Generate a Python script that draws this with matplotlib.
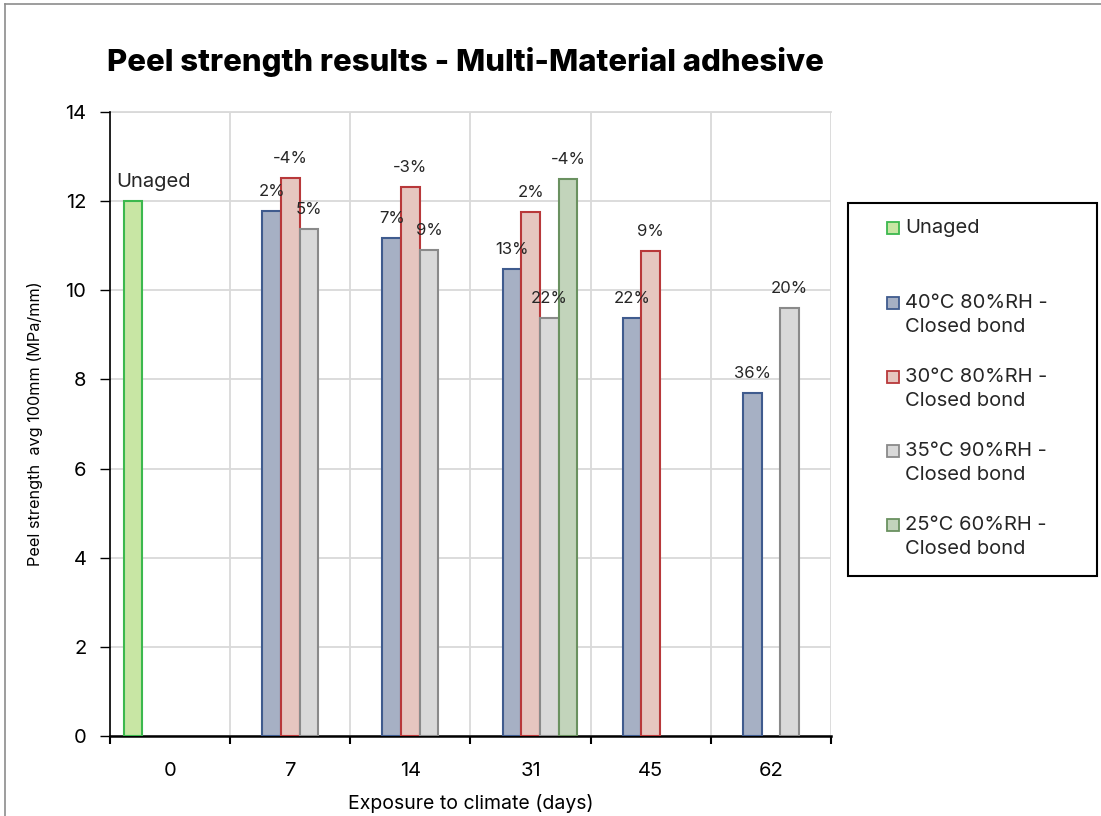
import numpy as np
import matplotlib
matplotlib.use("Agg")
import matplotlib.pyplot as plt
from matplotlib.patches import Rectangle
from matplotlib.lines import Line2D

W, H = 1101, 816
FONT = "Inter"
plt.rcParams["font.family"] = [FONT, "DejaVu Sans"]

# ---- data -------------------------------------------------------------
days = ["0", "7", "14", "31", "45", "62"]
nan = np.nan

series_names = ["Unaged",
                "40°C 80%RH -\nClosed bond",
                "30°C 80%RH -\nClosed bond",
                "35°C 90%RH -\nClosed bond",
                "25°C 60%RH -\nClosed bond"]

unaged   = [12.00, nan, nan, nan, nan, nan]
c40_rh80 = [nan, 11.78, 11.17, 10.47, 9.38, 7.69]
c30_rh80 = [nan, 12.51, 12.31, 11.75, 10.88, nan]
c35_rh90 = [nan, 11.37, 10.90, 9.38, nan, 9.61]
c25_rh60 = [nan, nan, nan, 12.49, nan, nan]

lbl_unaged   = ["Unaged", "", "", "", "", ""]
lbl_c40_rh80 = ["", "2%", "7%", "13%", "22%", "36%"]
lbl_c30_rh80 = ["", "-4%", "-3%", "2%", "9%", ""]
lbl_c35_rh90 = ["", "5%", "9%", "22%", "", "20%"]
lbl_c25_rh60 = ["", "", "", "-4%", "", ""]

yticks = [0, 2, 4, 6, 8, 10, 12, 14]

# ---- styles -----------------------------------------------------------
values = [unaged, c40_rh80, c30_rh80, c35_rh90, c25_rh60]
labels = [lbl_unaged, lbl_c40_rh80, lbl_c30_rh80, lbl_c35_rh90, lbl_c25_rh60]
fills = ["#c8e6a4", "#a6b0c4", "#e6c6c0", "#d9d9d9", "#c2d4bb"]
edges = ["#3cb84e", "#3f5b8e", "#b8383a", "#8a8a8a", "#6a9160"]

fig = plt.figure(figsize=(W / 100, H / 100), dpi=100)
ax = fig.add_axes([110 / W, (H - 736) / H, 721 / W, (736 - 112) / H])

x = np.arange(len(days))
bw = 0.155
offsets = (np.arange(5) - 2) * bw

for i in range(5):
    v = np.array(values[i], dtype=float)
    ax.bar(x + offsets[i], v, width=bw, color=fills[i], edgecolor=edges[i],
           linewidth=1.5, zorder=3)
    for j, (val, txt) in enumerate(zip(v, labels[i])):
        if txt and not np.isnan(val):
            dx = 15 if i == 0 else 0
            fs = 14.5 if i == 0 else 12
            ax.annotate(txt, (x[j] + offsets[i], val), xytext=(dx, 14),
                        textcoords="offset points", ha="center", va="center",
                        fontsize=fs, color="#262626", zorder=5)

ax.set_xlim(-0.5, len(days) - 0.5)
ax.set_ylim(0, 14)
ax.set_yticks(yticks)
ax.set_yticklabels([str(t) for t in yticks], fontsize=14.5)
ax.set_xticks(x)
ax.set_xticklabels(days, fontsize=14.5)
ax.set_xticks(np.arange(len(days) + 1) - 0.5, minor=True)
ax.tick_params(axis="x", which="major", length=0, pad=19)
ax.tick_params(axis="x", which="minor", length=6, width=1.5, direction="out")
ax.tick_params(axis="y", length=7, width=1, direction="out", pad=10)

ax.grid(True, axis="y", color="#d9d9d9", linewidth=1.3, zorder=0)
ax.grid(True, axis="x", which="minor", color="#d9d9d9", linewidth=1.3, zorder=0)
ax.set_axisbelow(True)
for s in ["top", "right"]:
    ax.spines[s].set_visible(False)
ax.axhline(14, color="#d9d9d9", linewidth=1.3, zorder=0, clip_on=False)
ax.spines["left"].set_linewidth(1.2)
ax.spines["bottom"].set_linewidth(1.8)

ax.set_xlabel("Exposure to climate (days)", fontsize=14, labelpad=10)
ax.set_ylabel("Peel strength  avg 100mm (MPa/mm)", fontsize=11.7, labelpad=16)

fig.text(107 / W, 1 - 62 / H, "Peel strength results - Multi-Material adhesive",
         fontsize=22.4, fontweight="heavy", ha="left", va="center", color="black")


def px(xp, yp):
    return xp / W, 1 - yp / H


# legend box
lx0, ly0, lx1, ly1 = 848, 203, 1097, 576
fig.add_artist(Rectangle(px(lx0, ly1), (lx1 - lx0) / W, (ly1 - ly0) / H,
                         transform=fig.transFigure, facecolor="white",
                         edgecolor="black", linewidth=1.5))
first_line_y = [228, 303, 377, 451, 525]
line_gap = 24
msz = 12
for i in range(5):
    yc = first_line_y[i]
    fig.add_artist(Rectangle(px(887, yc + msz / 2), msz / W, msz / H,
                             transform=fig.transFigure, facecolor=fills[i],
                             edgecolor=edges[i], linewidth=1.3))
    for k, line in enumerate(series_names[i].split("\n")):
        fx, fy = px(905, yc + k * line_gap)
        fig.text(fx, fy, line, fontsize=14.5, ha="left", va="center",
                 color="#262626")

# chart-area border (top and left edges)
fig.add_artist(Line2D([5 / W, 5 / W], [0, 1 - 4 / H], transform=fig.transFigure,
                      color="#8c8c8c", linewidth=1.2))
fig.add_artist(Line2D([5 / W, 1], [1 - 4 / H, 1 - 4 / H], transform=fig.transFigure,
                      color="#8c8c8c", linewidth=1.2))

fig.savefig("out.png", dpi=100)
